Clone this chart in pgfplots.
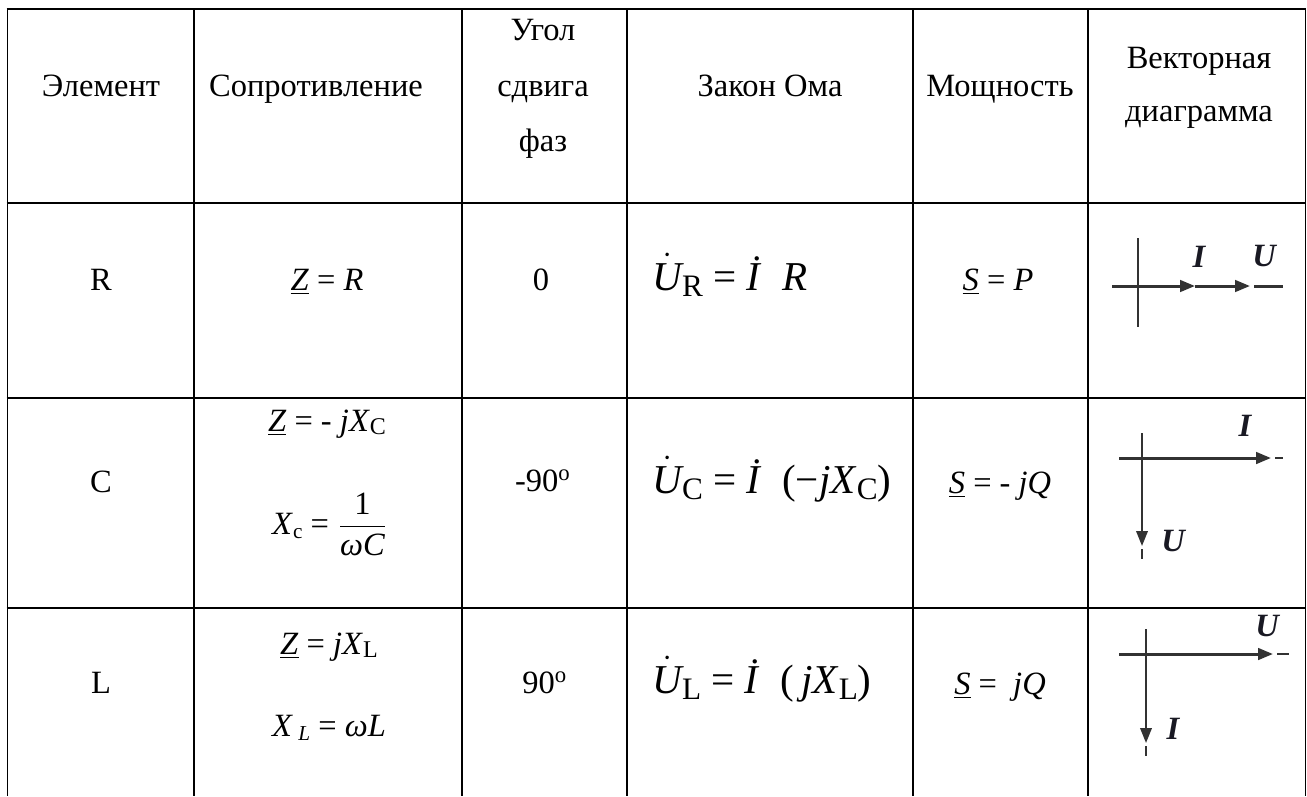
\documentclass[border=0pt]{standalone}
\usepackage{fontspec}
\setmainfont{Liberation Serif}
\usepackage{pgfplots}
\pgfplotsset{compat=1.18}
\usetikzlibrary{arrows.meta}
\definecolor{vec}{RGB}{50,50,50}
\definecolor{lbl}{RGB}{25,25,35}

\newcommand{\sub}[1]{\raisebox{-0.25ex}{\fontsize{9.6}{10}\selectfont #1}}
\newcommand{\bsub}[1]{\raisebox{-0.35ex}{\fontsize{12.5}{13}\selectfont #1}}
\newcommand{\dotU}{$\dot{\mbox{\itshape U}}$}

\tikzset{
  grid line/.style={black, line width=0.6pt},
  vh/.style={draw=vec, line width=1.2pt},
  vv/.style={draw=vec, line width=0.8pt},
  tail/.style={draw=vec, line width=0.6pt},
  arr/.style={-{Triangle[length=6pt,width=4.6pt]}},
  txt/.style={inner sep=0pt, anchor=base, font=\fontsize{13}{15}\selectfont},
  ohm/.style={inner sep=0pt, anchor=base west, font=\fontsize{16.4}{18}\selectfont},
  lab/.style={inner sep=0pt, text=lbl, font=\fontsize{13}{14}\selectfont\bfseries\itshape},
}

\begin{document}
\begin{tikzpicture}
\begin{axis}[
  scale only axis,
  width=522.8pt, height=318.4pt,
  xmin=0, xmax=1307, ymin=0, ymax=796,
  y dir=reverse,
  hide axis,
  clip=false,
]
% table grid
\addplot[grid line] coordinates {(6.5,9) (1305.7,9)};
\addplot[grid line] coordinates {(6.5,203) (1305.7,203)};
\addplot[grid line] coordinates {(6.5,398) (1305.7,398)};
\addplot[grid line] coordinates {(6.5,608) (1305.7,608)};
\addplot[grid line] coordinates {(7.5,9) (7.5,796)};
\addplot[grid line] coordinates {(194,9) (194,796)};
\addplot[grid line] coordinates {(462,9) (462,796)};
\addplot[grid line] coordinates {(627,9) (627,796)};
\addplot[grid line] coordinates {(913,9) (913,796)};
\addplot[grid line] coordinates {(1088,9) (1088,796)};
\addplot[grid line] coordinates {(1305.5,9) (1305.5,796)};

% header (baselines)
\node[txt] at (101,96) {Элемент};
\node[txt] at (316,96) {Сопротивление};
\node[txt] at (543,40) {Угол};
\node[txt] at (543,96) {сдвига};
\node[txt] at (543,151) {фаз};
\node[txt] at (770,96) {Закон Ома};
\node[txt] at (1000,96) {Мощность};
\node[txt] at (1199,68) {Векторная};
\node[txt] at (1199,121) {диаграмма};

% row R
\node[txt] at (101,290) {R};
\node[txt] at (327,290) {\underline{\textit{Z}} = \textit{R}};
\node[txt] at (541,290) {0};
\node[ohm] at (652,290) {\dotU\bsub{R} = \textit{İ}\ \ \textit{R}};
\node[txt] at (998,290) {\underline{\textit{S}} = \textit{P}};

% row C
\node[txt] at (101,492) {C};
\node[txt] at (327,431) {\underline{\textit{Z}} = - \textit{jX}\sub{C}};
\node[txt, anchor=center] at (330,524) {\textit{X}\raisebox{-0.3ex}{\fontsize{8.5}{9}\selectfont c} = $\displaystyle{\mbox{1}\over\mbox{\itshape ωC}}$};
\node[txt] at (543,491) {-90\textsuperscript{o}};
\node[ohm] at (652,493) {\dotU\bsub{C} = \textit{İ}\ \ (−\textit{jX}\bsub{C})};
\node[txt] at (1000,493) {\underline{\textit{S}} = - \textit{jQ}};

% row L
\node[txt] at (101,693) {L};
\node[txt] at (329,654) {\underline{\textit{Z}} = \textit{jX}\sub{L}};
\node[txt] at (329,736) {\textit{X}\,\raisebox{-0.3ex}{\fontsize{8.5}{9}\selectfont\itshape L} = \textit{ωL}};
\node[txt] at (545,693) {90\textsuperscript{o}};
\node[ohm] at (652,693) {\dotU\bsub{L} = \textit{İ}\ \ (\,\textit{jX}\bsub{L})};
\node[txt] at (1000,694) {\underline{\textit{S}} = \ \textit{jQ}};

% vector diagram R
\addplot[vv] coordinates {(1138,238) (1138,327)};
\addplot[vh, arr] coordinates {(1112,286) (1195,286)};
\addplot[vh, arr] coordinates {(1195,286) (1250,286)};
\addplot[vh] coordinates {(1254,286) (1283,286)};
\node[lab] at (1199,257) {I};
\node[lab] at (1264,256) {U};

% vector diagram C
\addplot[vv, arr] coordinates {(1142,433) (1142,546)};
\addplot[tail] coordinates {(1142,549) (1142,559)};
\addplot[vh, arr] coordinates {(1119,458) (1271,458)};
\addplot[tail] coordinates {(1275,458) (1283,458)};
\node[lab] at (1245,426) {I};
\node[lab] at (1173,541) {U};

% vector diagram L
\addplot[vv, arr] coordinates {(1146,629) (1146,743)};
\addplot[tail] coordinates {(1146,746) (1146,756)};
\addplot[vh, arr] coordinates {(1119,654) (1273,654)};
\addplot[tail] coordinates {(1277,654) (1289,654)};
\node[lab] at (1267,626) {U};
\node[lab] at (1173,729) {I};
\end{axis}
\pgfresetboundingbox
\useasboundingbox (current axis.south west) rectangle (current axis.north east);
\end{tikzpicture}
\end{document}
